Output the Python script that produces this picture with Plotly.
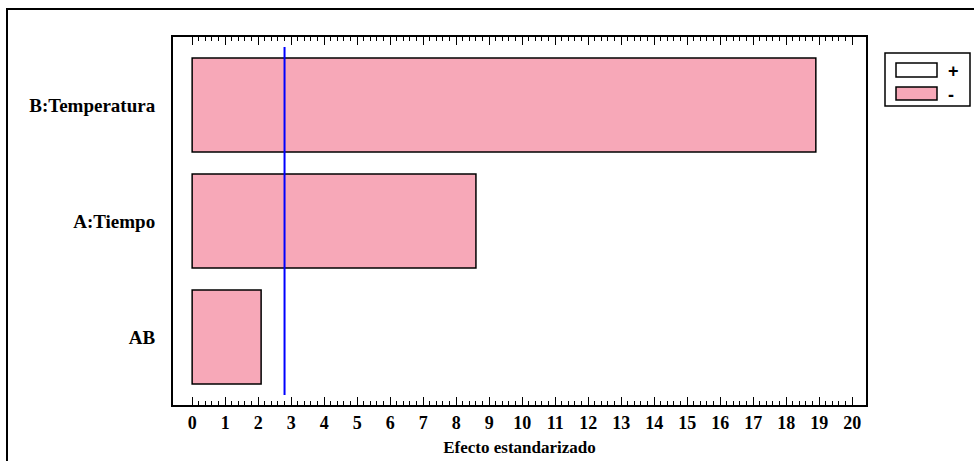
import plotly.graph_objects as go

# Data
categories = ["AB", "A:Tiempo", "B:Temperatura"]
effects = [2.09, 8.6, 18.9]
critical_value = 2.8
x_ticks = list(range(0, 21))
legend_labels = ["+", "-"]

PINK = "#F7A8B8"
FONT = "Liberation Serif, Times New Roman, serif"

fig = go.Figure()
fig.add_trace(go.Bar(
    y=categories, x=effects, orientation="h", width=0.81,
    marker=dict(color=PINK, line=dict(color="black", width=1.5)),
    showlegend=False, hoverinfo="x+y",
))

minor_vals = [round(i * 0.2, 1) for i in range(0, 101) if i % 5 != 0]

fig.update_layout(
    width=974, height=461,
    margin=dict(l=173, r=108, t=37, b=56),
    paper_bgcolor="white", plot_bgcolor="white",
    bargap=0.19,
    xaxis=dict(
        range=[-0.58, 20.42], tickmode="array", tickvals=x_ticks,
        ticktext=[str(v) for v in x_ticks], automargin=False,
        ticks="inside", ticklen=8, tickwidth=1, tickcolor="black",
        showline=True, linewidth=2, linecolor="black", mirror="ticks",
        showgrid=False, zeroline=False,
        minor=dict(tickmode="array", tickvals=minor_vals, ticks="inside",
                   ticklen=4, tickwidth=1, tickcolor="black", showgrid=False),
        tickfont=dict(family=FONT, size=18, color="black", weight="bold"),
        title=dict(text="Efecto estandarizado", standoff=10,
                   font=dict(family=FONT, size=17, color="black", weight="bold")),
    ),
    yaxis=dict(
        type="category", categoryorder="array", categoryarray=categories,
        range=[-0.586, 2.586], automargin=False,
        showline=True, linewidth=2, linecolor="black", mirror=True,
        ticks="", showgrid=False, zeroline=False,
        ticklabelstandoff=12,
        tickfont=dict(family=FONT, size=19, color="black", weight="bold"),
    ),
)

# critical value line
fig.add_shape(type="line", xref="x", yref="y", x0=critical_value, x1=critical_value,
              y0=-0.5, y1=2.5, line=dict(color="#0000FF", width=2))

# outer frame (pixel -> paper conversion)
W, L, H, B = 693, 173, 368, 405
def px(x):
    return (x - L) / W
def py(y):
    return (B - y) / H

fig.add_shape(type="rect", xref="paper", yref="paper",
              x0=px(7), x1=px(990), y0=py(480), y1=py(9),
              line=dict(color="black", width=2), fillcolor="rgba(0,0,0,0)", layer="below")

# legend box
fig.add_shape(type="rect", xref="paper", yref="paper",
              x0=px(885), x1=px(970), y0=py(106), y1=py(53),
              line=dict(color="black", width=1.5), fillcolor="white")
swatch_colors = ["white", PINK]
swatch_y = [(63, 77), (87, 100)]
for lab, col, (ya, yb) in zip(legend_labels, swatch_colors, swatch_y):
    fig.add_shape(type="rect", xref="paper", yref="paper",
                  x0=px(896), x1=px(937), y0=py(yb), y1=py(ya),
                  line=dict(color="black", width=1.5), fillcolor=col)
    fig.add_annotation(xref="paper", yref="paper", x=px(946), y=py((ya + yb) / 2 + 1),
                       text=lab, showarrow=False, xanchor="left", yanchor="middle",
                       font=dict(family="Liberation Sans, Arial, sans-serif", size=18,
                                 color="black", weight="bold"))

fig.write_html("out.html")
